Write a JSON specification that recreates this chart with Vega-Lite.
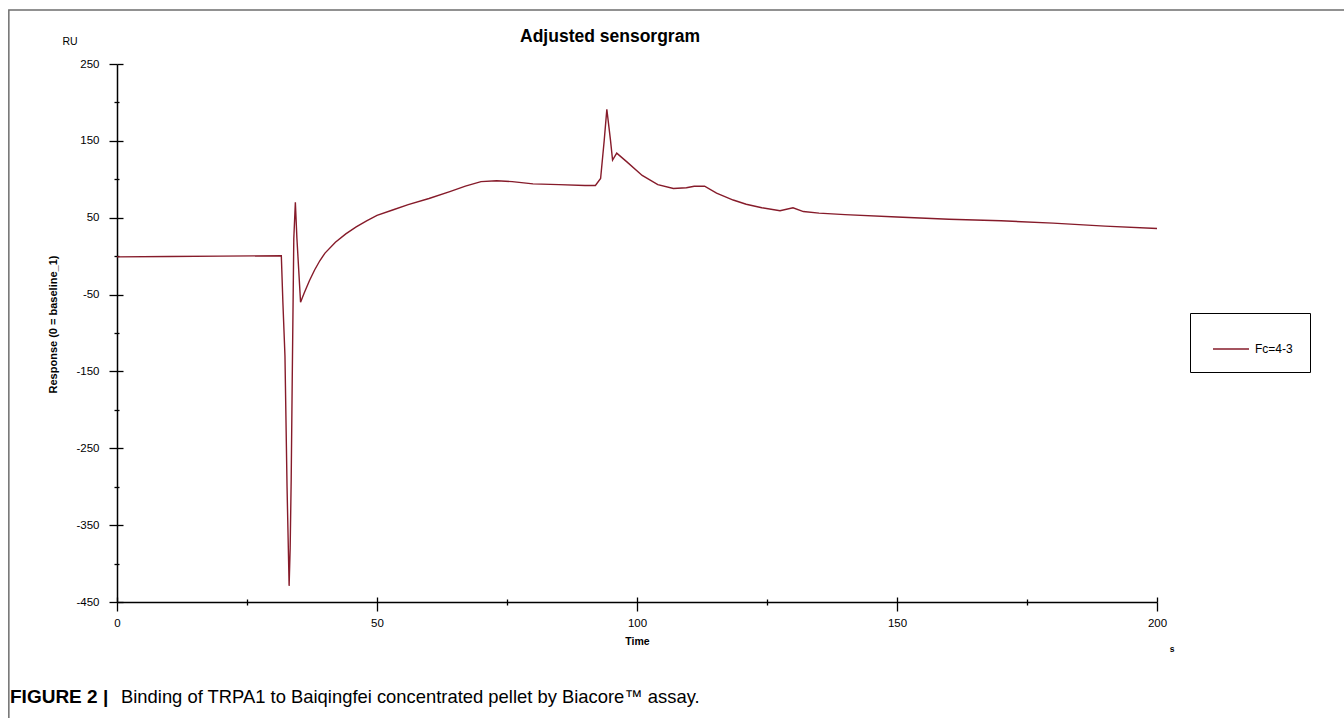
{
  "$schema": "https://vega.github.io/schema/vega-lite/v6.json",
  "autosize": {"type": "none"},
  "width": 1040,
  "height": 538,
  "padding": {"left": 117, "top": 64, "right": 187, "bottom": 116},
  "background": "white",
  "config": {"view": {"stroke": null}, "font": "Liberation Sans"},
  "datasets": {
    "one": [{"k": 1}],
    "curve": [
      {"t": 0, "v": -1, "series": "Fc=4-3"},
      {"t": 10, "v": -0.5, "series": "Fc=4-3"},
      {"t": 20, "v": 0, "series": "Fc=4-3"},
      {"t": 31.6, "v": 0.5, "series": "Fc=4-3"},
      {"t": 31.9, "v": -60, "series": "Fc=4-3"},
      {"t": 32.3, "v": -130, "series": "Fc=4-3"},
      {"t": 32.7, "v": -300, "series": "Fc=4-3"},
      {"t": 33.1, "v": -429, "series": "Fc=4-3"},
      {"t": 33.3, "v": -380, "series": "Fc=4-3"},
      {"t": 33.5, "v": -290, "series": "Fc=4-3"},
      {"t": 33.7, "v": -160, "series": "Fc=4-3"},
      {"t": 34.0, "v": 23, "series": "Fc=4-3"},
      {"t": 34.3, "v": 70, "series": "Fc=4-3"},
      {"t": 34.6, "v": 23, "series": "Fc=4-3"},
      {"t": 35.3, "v": -60, "series": "Fc=4-3"},
      {"t": 36, "v": -48, "series": "Fc=4-3"},
      {"t": 37, "v": -32, "series": "Fc=4-3"},
      {"t": 38, "v": -18, "series": "Fc=4-3"},
      {"t": 39, "v": -6, "series": "Fc=4-3"},
      {"t": 40, "v": 4, "series": "Fc=4-3"},
      {"t": 42, "v": 18, "series": "Fc=4-3"},
      {"t": 44, "v": 29, "series": "Fc=4-3"},
      {"t": 46, "v": 38, "series": "Fc=4-3"},
      {"t": 48, "v": 46, "series": "Fc=4-3"},
      {"t": 50, "v": 53, "series": "Fc=4-3"},
      {"t": 53, "v": 60, "series": "Fc=4-3"},
      {"t": 56, "v": 67, "series": "Fc=4-3"},
      {"t": 60, "v": 75, "series": "Fc=4-3"},
      {"t": 64, "v": 84, "series": "Fc=4-3"},
      {"t": 67, "v": 91, "series": "Fc=4-3"},
      {"t": 70, "v": 97, "series": "Fc=4-3"},
      {"t": 73, "v": 98, "series": "Fc=4-3"},
      {"t": 76, "v": 97, "series": "Fc=4-3"},
      {"t": 80, "v": 94, "series": "Fc=4-3"},
      {"t": 85, "v": 93, "series": "Fc=4-3"},
      {"t": 90, "v": 92, "series": "Fc=4-3"},
      {"t": 92, "v": 92, "series": "Fc=4-3"},
      {"t": 93, "v": 101, "series": "Fc=4-3"},
      {"t": 93.7, "v": 151, "series": "Fc=4-3"},
      {"t": 94.2, "v": 191, "series": "Fc=4-3"},
      {"t": 94.9, "v": 151, "series": "Fc=4-3"},
      {"t": 95.3, "v": 125, "series": "Fc=4-3"},
      {"t": 96.1, "v": 134, "series": "Fc=4-3"},
      {"t": 98, "v": 123, "series": "Fc=4-3"},
      {"t": 101, "v": 105, "series": "Fc=4-3"},
      {"t": 104, "v": 93, "series": "Fc=4-3"},
      {"t": 107, "v": 88, "series": "Fc=4-3"},
      {"t": 109.5, "v": 89, "series": "Fc=4-3"},
      {"t": 111, "v": 91, "series": "Fc=4-3"},
      {"t": 113, "v": 91, "series": "Fc=4-3"},
      {"t": 115.3, "v": 82, "series": "Fc=4-3"},
      {"t": 118.5, "v": 73, "series": "Fc=4-3"},
      {"t": 121, "v": 67.5, "series": "Fc=4-3"},
      {"t": 124, "v": 63, "series": "Fc=4-3"},
      {"t": 127.5, "v": 59, "series": "Fc=4-3"},
      {"t": 130, "v": 63, "series": "Fc=4-3"},
      {"t": 132, "v": 58, "series": "Fc=4-3"},
      {"t": 135, "v": 56, "series": "Fc=4-3"},
      {"t": 140, "v": 54, "series": "Fc=4-3"},
      {"t": 150, "v": 51, "series": "Fc=4-3"},
      {"t": 160, "v": 48, "series": "Fc=4-3"},
      {"t": 170, "v": 46, "series": "Fc=4-3"},
      {"t": 180, "v": 43, "series": "Fc=4-3"},
      {"t": 190, "v": 39, "series": "Fc=4-3"},
      {"t": 200, "v": 36, "series": "Fc=4-3"}
    ]
  },
  "layer": [
    {
      "data": {"name": "one"},
      "mark": {"type": "rect", "fill": null, "stroke": "#6e6e6e", "strokeWidth": 1.5},
      "encoding": {
        "x": {"datum": -20.8, "type": "quantitative", "scale": {"domain": [0, 200], "nice": false, "zero": false}, "axis": null},
        "x2": {"datum": 320},
        "y": {"datum": 320.3, "type": "quantitative", "scale": {"domain": [-450, 250], "nice": false, "zero": false}, "axis": null},
        "y2": {"datum": -650}
      }
    },
    {
      "data": {"name": "curve"},
      "mark": {"type": "line", "strokeWidth": 1.4},
      "encoding": {
        "x": {
          "field": "t", "type": "quantitative",
          "scale": {"domain": [0, 200], "nice": false, "zero": false},
          "axis": {
            "orient": "bottom",
            "values": [0, 25, 50, 75, 100, 125, 150, 175, 200],
            "labelExpr": "datum.value % 50 == 0 ? '' + datum.value : ''",
            "tickSize": {"condition": {"test": "datum.value % 50 == 0", "value": 9}, "value": 3},
            "tickColor": "#000", "tickWidth": 1.3,
            "domainColor": "#000", "domainWidth": 1.5,
            "labelFontSize": 11.5, "labelColor": "#000", "labelPadding": 6, "labelOverlap": false, "labelFlush": false,
            "grid": false,
            "title": "Time", "titleFontSize": 10.5, "titleFontWeight": "bold", "titleColor": "#000",
            "titleY": 39, "titleBaseline": "middle"
          }
        },
        "y": {
          "field": "v", "type": "quantitative",
          "scale": {"domain": [-450, 250], "nice": false, "zero": false},
          "axis": {
            "orient": "left",
            "values": [-450, -400, -350, -300, -250, -200, -150, -100, -50, 0, 50, 100, 150, 200, 250],
            "labelExpr": "abs(datum.value % 100) == 50 ? '' + datum.value : ''",
            "tickSize": {"condition": {"test": "abs(datum.value % 100) == 50", "value": 8}, "value": 3},
            "tickColor": "#000", "tickWidth": 1.3,
            "domainColor": "#000", "domainWidth": 1.5,
            "labelFontSize": 11.5, "labelColor": "#000", "labelPadding": 10, "labelOverlap": false, "labelFlush": false,
            "grid": false,
            "title": "Response (0 = baseline_1)", "titleFontSize": 11, "titleFontWeight": "bold", "titleColor": "#000",
            "titleX": -64, "titleY": 260, "titleAngle": -90, "titleBaseline": "middle", "titleAlign": "center"
          }
        },
        "color": {
          "field": "series", "type": "nominal",
          "scale": {"range": ["#861b2a"]},
          "legend": {
            "orient": "none", "legendX": 1073, "legendY": 249,
            "title": null, "strokeColor": "#000", "fillColor": "#fff", "padding": 17,
            "symbolType": "stroke", "symbolSize": 1296, "symbolStrokeWidth": 1.5, "symbolOffset": 5,
            "labelFontSize": 12, "labelColor": "#000", "labelOffset": 5
          }
        }
      }
    },
    {
      "data": {"name": "one"},
      "mark": {"type": "text", "text": "RU", "fontSize": 10.5, "dx": -47, "dy": -22, "align": "center", "baseline": "middle", "color": "#000"},
      "encoding": {
        "x": {
          "datum": 0, "type": "quantitative",
          "scale": {"domain": [0, 200], "nice": false, "zero": false},
          "axis": {
            "orient": "bottom", "values": [0, 25, 50, 75, 100, 125, 150, 175, 200],
            "labels": false, "domain": false, "grid": false, "title": null,
            "tickSize": {"condition": {"test": "datum.value % 50 == 0", "value": -5}, "value": -3},
            "tickColor": "#000", "tickWidth": 1.3
          }
        },
        "y": {
          "datum": 250, "type": "quantitative",
          "scale": {"domain": [-450, 250], "nice": false, "zero": false},
          "axis": {
            "orient": "left",
            "values": [-450, -400, -350, -300, -250, -200, -150, -100, -50, 0, 50, 100, 150, 200, 250],
            "labels": false, "domain": false, "grid": false, "title": null,
            "tickSize": {"condition": {"test": "abs(datum.value % 100) == 50", "value": -6}, "value": -2},
            "tickColor": "#000", "tickWidth": 1.3
          }
        }
      }
    },
    {
      "data": {"name": "one"},
      "mark": {"type": "text", "text": "Adjusted sensorgram", "fontSize": 17.5, "fontWeight": "bold", "dx": -27, "dy": -27, "align": "center", "baseline": "middle", "color": "#000"},
      "encoding": {
        "x": {"datum": 100, "type": "quantitative", "axis": null},
        "y": {"datum": 250, "type": "quantitative", "axis": null}
      }
    },
    {
      "data": {"name": "one"},
      "mark": {"type": "text", "text": "s", "fontSize": 8.5, "fontWeight": "bold", "dx": 15, "dy": 47, "align": "center", "baseline": "middle", "color": "#000"},
      "encoding": {
        "x": {"datum": 200, "type": "quantitative", "axis": null},
        "y": {"datum": -450, "type": "quantitative", "axis": null}
      }
    },
    {
      "data": {"name": "one"},
      "mark": {"type": "text", "text": "FIGURE 2 |", "fontSize": 19, "fontWeight": "bold", "dx": -107, "dy": 95, "align": "left", "baseline": "middle", "color": "#000"},
      "encoding": {
        "x": {"datum": 0, "type": "quantitative", "axis": null},
        "y": {"datum": -450, "type": "quantitative", "axis": null}
      }
    },
    {
      "data": {"name": "one"},
      "mark": {"type": "text", "text": "Binding of TRPA1 to Baiqingfei concentrated pellet by Biacore™ assay.", "fontSize": 18.4, "dx": 4, "dy": 95, "align": "left", "baseline": "middle", "color": "#000"},
      "encoding": {
        "x": {"datum": 0, "type": "quantitative", "axis": null},
        "y": {"datum": -450, "type": "quantitative", "axis": null}
      }
    }
  ],
  "resolve": {"axis": {"x": "independent", "y": "independent"}}
}
